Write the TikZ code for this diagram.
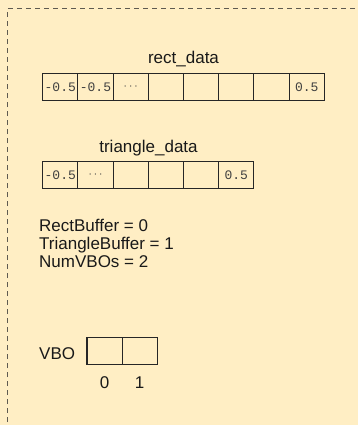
\documentclass[tikz,border=0pt]{standalone}
\usepackage{fontspec}
\setmainfont{Liberation Sans}
\setmonofont{Liberation Mono}

\definecolor{paper}{RGB}{255,238,196}
\definecolor{framegray}{RGB}{95,90,80}

\tikzset{
  cell/.style={draw=black!85, line width=1.1pt, minimum width=35.2pt, minimum height=26.3pt,
    inner sep=0pt, text=black!75, font=\fontsize{13}{13}\selectfont\ttfamily},
  caption/.style={anchor=base, inner sep=0pt, text=black!90, font=\fontsize{17}{18}\selectfont},
}

\begin{document}
\begin{tikzpicture}[x=1pt, y=-1pt]
        \useasboundingbox (0, 0) rectangle (358, 425);
        \fill[paper] (0, 0) rectangle (358, 425);
        \draw[framegray, line width=1.3pt, dash pattern=on 5pt off 4pt] (7.5, 440) |- (370, 8.5);

        % rect_data array
        \node[caption] (rectlabel) at (183.5, 64) {rect\_data};
        \foreach \val [count=\i] in {{-0.5},{-0.5},{$\cdots$},{},{},{},{},{0.5}}
            \node[cell] (r\i) at ({42.7 + 35.2*(\i - 0.5)}, 87) {\val};

        % triangle_data array
        \node[caption] (trilabel) at (148.5, 152) {triangle\_data};
        \foreach \val [count=\i] in {{-0.5},{$\cdots$},{},{},{},{0.5}}
            \node[cell] (t\i) at ({42.7 + 35.2*(\i - 0.5)}, 175) {\val};

        % buffer ids
        \node[caption, anchor=base west] (rectbuf) at (39, 231) {RectBuffer = 0};
        \node[caption, anchor=base west] (tribuf) at (39, 249) {TriangleBuffer = 1};
        \node[caption, anchor=base west] (numvbos) at (39, 267) {NumVBOs = 2};

        % VBO handles with their indices
        \node[caption, anchor=base west] (vbolabel) at (39, 359.3) {VBO};
        \foreach \i in {0, 1}
            \node[cell] (v\i) at ({87 + 35.2*(\i + 0.5)}, 351) {};
        \node[caption] (idx0) at (104.5, 388.7) {0};
        \node[caption] (idx1) at (139.7, 388.7) {1};
    \end{tikzpicture}
\end{document}
